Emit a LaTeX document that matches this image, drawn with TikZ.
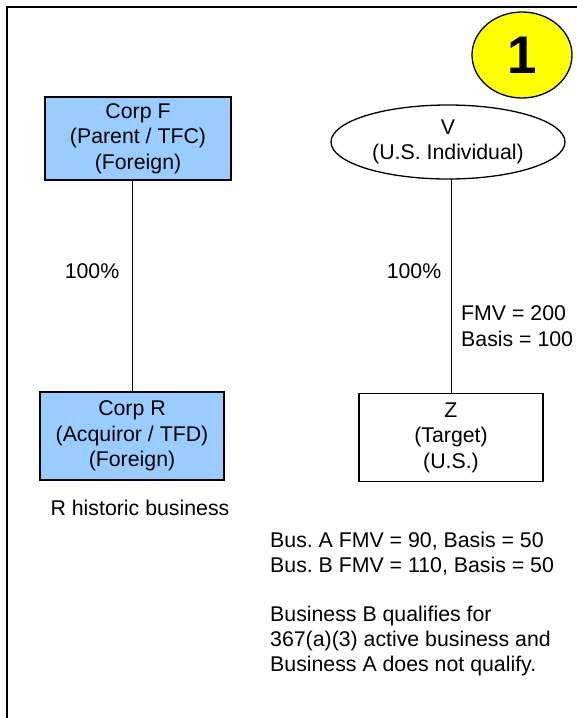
\documentclass[tikz,border=0pt]{standalone}
\usepackage{fontspec}
\setmainfont{Liberation Sans}
\usetikzlibrary{shapes.geometric,calc}
\definecolor{boxblue}{HTML}{99CCFF}
\definecolor{badgeyellow}{HTML}{FFFF00}
\frenchspacing
\tikzset{
  txt/.style={font=\fontsize{21.3}{25.5}\selectfont, inner sep=0pt},
  entity/.style={txt, draw=black, line width=1.3pt, align=center, inner sep=0pt},
  link/.style={draw=black, line width=1pt},
}
\begin{document}
\begin{tikzpicture}[x=1pt,y=-1pt]
\useasboundingbox (0,0) rectangle (577,718);
\draw[line width=2.2pt] (577,7) -- (7,7) -- (7,718);
% badge
\node[ellipse, draw=black, line width=1.3pt, fill=badgeyellow, minimum width=100, minimum height=86, inner sep=0pt,
      font=\fontsize{53}{55}\selectfont\bfseries] (badge) at (522,55) {1};
% entities
\node[entity, fill=boxblue, minimum width=186, minimum height=83] (F) at (138,138.5)
  {Corp F\\(Parent / TFC)\\(Foreign)};
\node[entity, ellipse, minimum width=234, minimum height=74] (V) at (448,142)
  {V\\(U.S. Individual)};
\node[entity, fill=boxblue, minimum width=184, minimum height=88] (R) at (132,436)
  {Corp R\\(Acquiror / TFD)\\(Foreign)};
\node[entity, fill=white, minimum width=184, minimum height=88] (Z) at (451,437.5)
  {Z\\(Target)\\(U.S.)};
% connectors
\draw[link] (R.north) -- (R.north |- F.south);
\draw[link] (Z.north) -- ($(Z.north |- V.south)+(0,-1)$);
% labels
\node[txt] (p1) at (92,271) {100\%};
\node[txt] (p2) at (414,271) {100\%};
\node[txt, anchor=west] (fmv) at (461,313) {FMV = 200};
\node[txt, anchor=west] (bas) at (461,339) {Basis = 100};
\node[txt] (hist) at (140,508) {R historic business};
\node[txt, anchor=west] (ba) at (270,541) {Bus. A FMV = 90, Basis = 50};
\node[txt, anchor=west] (bb) at (270,566) {Bus. B FMV = 110, Basis = 50};
\node[txt, anchor=west] (q1) at (270,616) {Business B qualifies for};
\node[txt, anchor=west] (q2) at (270,641) {367(a)(3) active business and};
\node[txt, anchor=west] (q3) at (270,666) {Business A does not qualify.};
\end{tikzpicture}
\end{document}
